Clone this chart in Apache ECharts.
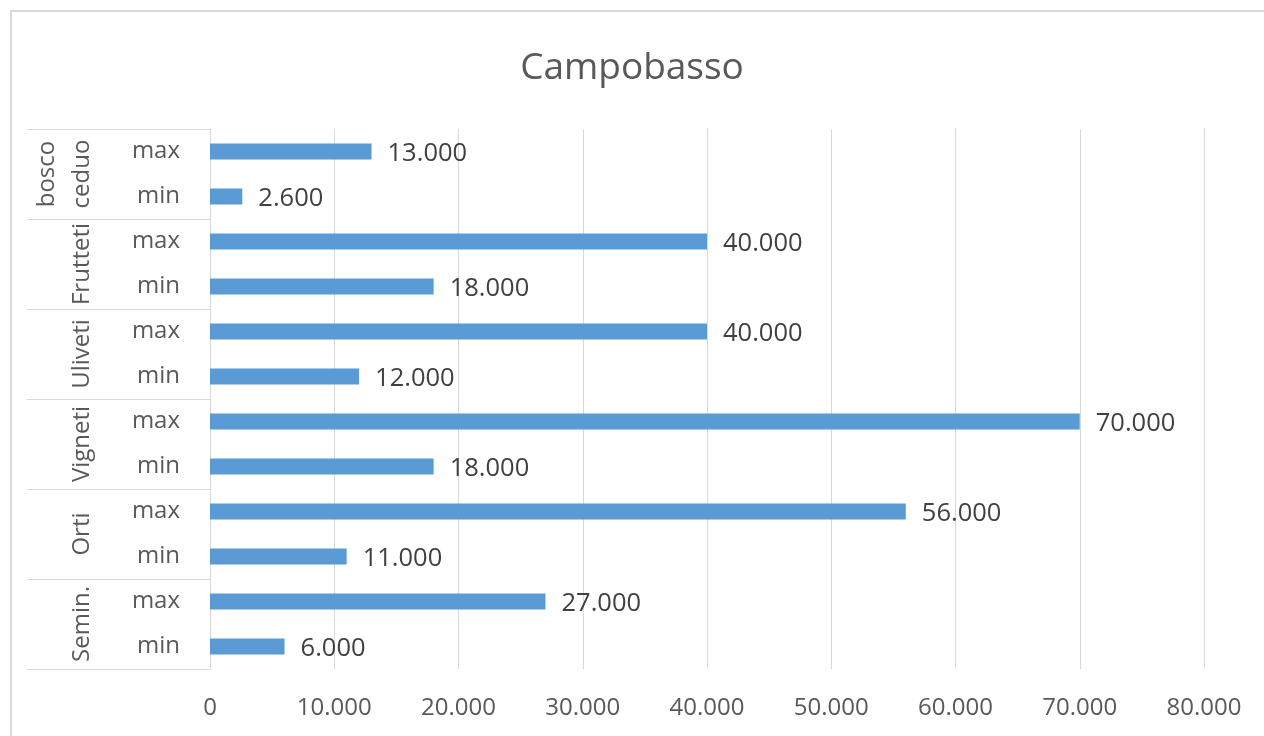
<!DOCTYPE html>
<html>
<head>
<meta charset="utf-8">
<script src="https://cdn.jsdelivr.net/npm/echarts@6/dist/echarts.min.js"></script>
<style>
html,body{margin:0;padding:0;background:#fff;}
#chart{width:1264px;height:736px;}
</style>
</head>
<body>
<div id="chart"></div>
<script>
// Data (bottom to top, as in the reference)
const groups = ['Semin.', 'Orti', 'Vigneti', 'Uliveti', 'Frutteti', 'bosco\nceduo'];
const subLabels = ['min', 'max', 'min', 'max', 'min', 'max', 'min', 'max', 'min', 'max', 'min', 'max'];
const values = [6000, 27000, 11000, 56000, 18000, 70000, 12000, 40000, 18000, 40000, 2600, 13000];
const xTicks = { min: 0, max: 80000, interval: 10000 };

function fmt(v) {
  return String(Math.round(v)).replace(/\B(?=(\d{3})+(?!\d))/g, '.');
}

const FONT = '"Open Sans", "Noto Sans", sans-serif';
const chart = echarts.init(document.getElementById('chart'), null, { renderer: 'canvas' });
chart.setOption({
  animation: false,
  backgroundColor: '#ffffff',
  textStyle: { fontFamily: FONT },
  graphic: [{
    type: 'rect', z: -10, silent: true,
    shape: { x: 11, y: 11, width: 1400, height: 900 },
    style: { fill: 'none', stroke: '#d9d9d9', lineWidth: 2 }
  }],
  title: {
    text: 'Campobasso',
    left: 'center',
    top: 45,
    textStyle: { fontFamily: FONT, fontSize: 37, fontWeight: 'normal', color: '#595959' }
  },
  grid: { left: 210, right: 60, top: 129, bottom: 67, containLabel: false },
  xAxis: {
    type: 'value',
    min: xTicks.min, max: xTicks.max, interval: xTicks.interval,
    axisLine: { show: false },
    axisTick: { show: false },
    splitLine: { show: true, lineStyle: { color: '#d9d9d9', width: 1 } },
    axisLabel: { color: '#595959', fontSize: 24, fontFamily: FONT, margin: 27, formatter: fmt }
  },
  yAxis: [{
    type: 'category',
    data: subLabels,
    position: 'left',
    axisLine: { show: true, lineStyle: { color: '#d9d9d9', width: 1 } },
    axisTick: { show: false },
    axisLabel: { color: '#595959', fontSize: 24, fontFamily: FONT, margin: 30, interval: 0, padding: [6, 0, 0, 0] }
  }, {
    type: 'category',
    data: groups,
    position: 'left',
    axisLine: { show: false },
    axisTick: { show: true, length: 183, interval: 0, lineStyle: { color: '#d9d9d9', width: 1 } },
    axisLabel: {
      color: '#595959', fontSize: 24, fontFamily: FONT, interval: 0,
      rotate: 90, align: 'center', verticalAlign: 'bottom', lineHeight: 35, margin: 110
    }
  }],
  series: [{
    type: 'bar',
    yAxisIndex: 0,
    data: values,
    barWidth: 16,
    itemStyle: { color: '#5b9bd5' },
    label: {
      show: true, position: 'right', distance: 16, offset: [0, 2],
      color: '#404040', fontSize: 25.5, fontFamily: FONT,
      formatter: p => fmt(p.value)
    }
  }]
});
</script>
</body>
</html>
